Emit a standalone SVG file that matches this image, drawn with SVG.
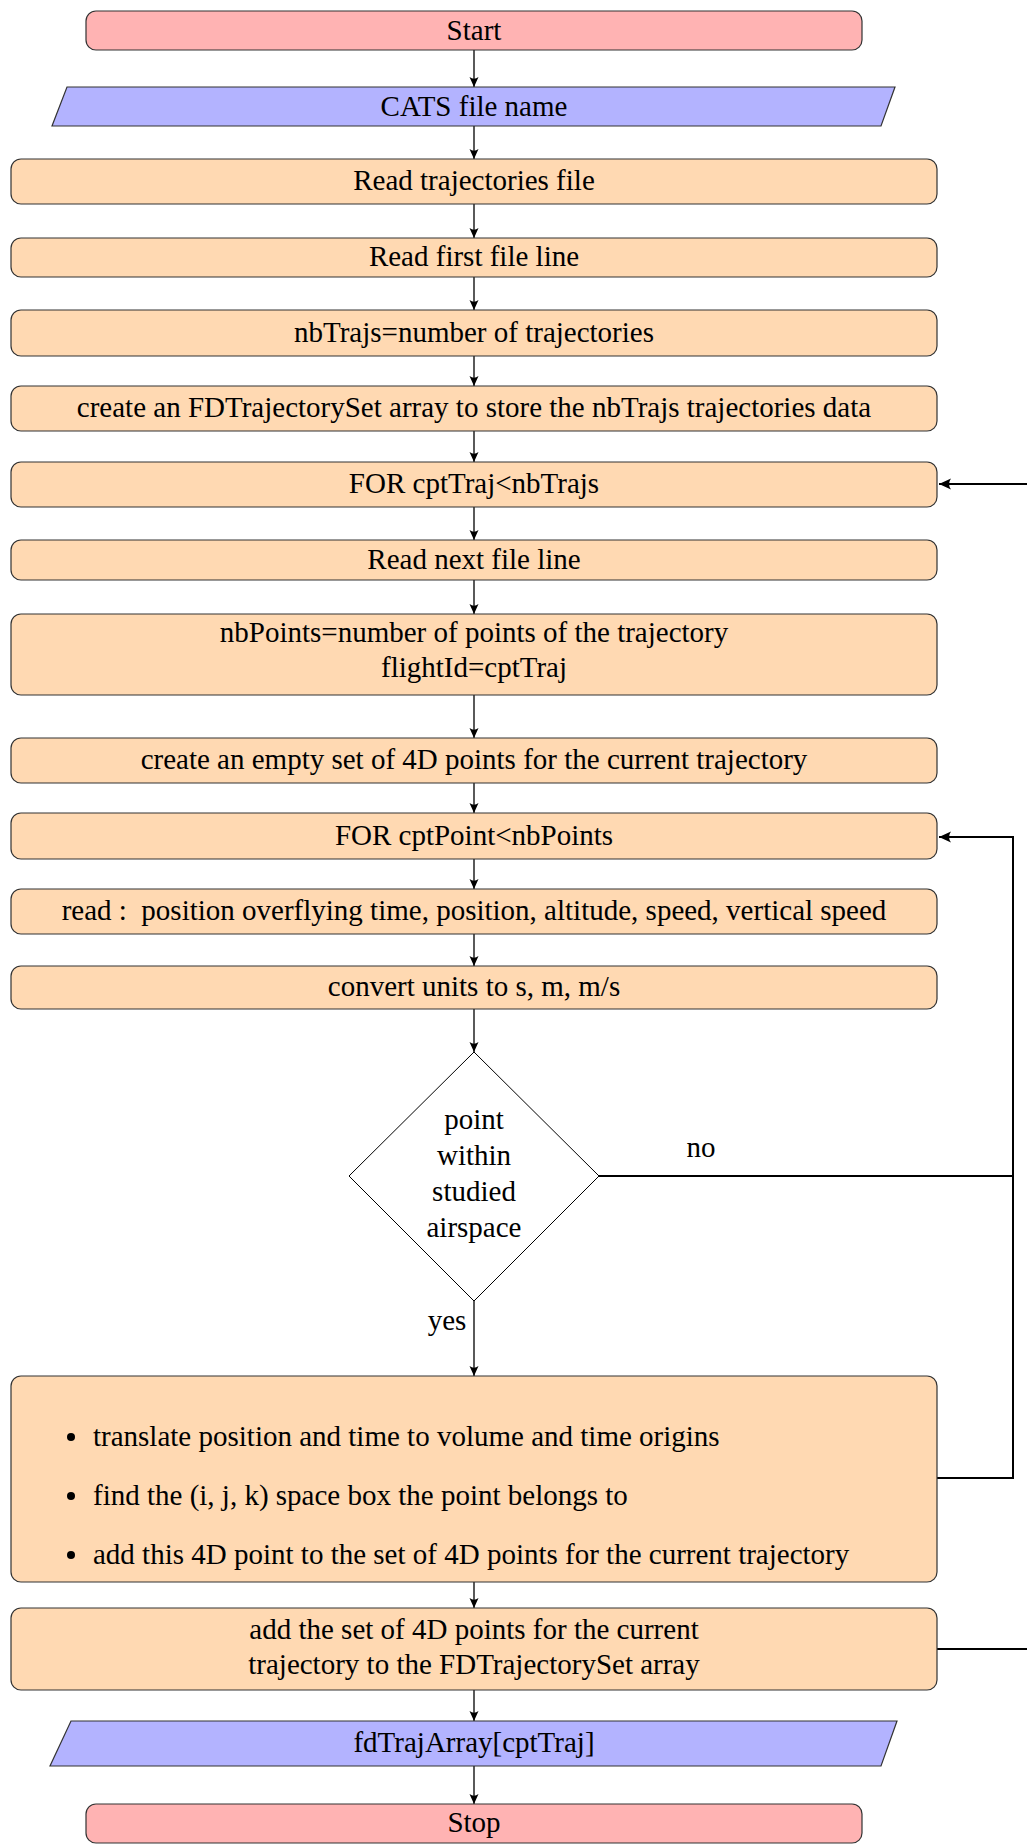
<svg xmlns="http://www.w3.org/2000/svg" width="1027" height="1845" viewBox="0 0 1027 1845">
<style>
text{font-size:29px;fill:#000;text-anchor:middle}
.proc{fill:#FFD9B2;stroke:#333;stroke-width:1.2}
.term{fill:#FFB3B3;stroke:#333;stroke-width:1.2}
.io{fill:#B3B3FF;stroke:#333;stroke-width:1.2}
.dec{fill:#fff;stroke:#000;stroke-width:1}
.arr{fill:none;stroke:#000;stroke-width:1.3;marker-end:url(#ah)}
.loop{fill:none;stroke:#000;stroke-width:2}
.lt{text-anchor:start}
</style>
<defs>
<marker id="ah" markerUnits="userSpaceOnUse" markerWidth="14" markerHeight="12" viewBox="-11 -6 12 12" refX="0" refY="0" orient="auto">
<path d="M0,0 L-10,-4.5 Q-6.5,0 -10,4.5 Z" fill="#000"/>
</marker>
<marker id="ah2" markerUnits="userSpaceOnUse" markerWidth="16" markerHeight="14" viewBox="-13 -7 14 14" refX="0" refY="0" orient="auto">
<path d="M0,0 L-12,-5.5 Q-8,0 -12,5.5 Z" fill="#000"/>
</marker>
</defs>
<g font-family="'Liberation Serif', 'Times New Roman', Times, 'DejaVu Serif', serif">
<g id="connectors">
<path class="arr" d="M474,50 V87"/>
<path class="arr" d="M474,126 V159"/>
<path class="arr" d="M474,204 V238"/>
<path class="arr" d="M474,277 V310"/>
<path class="arr" d="M474,356 V386"/>
<path class="arr" d="M474,431 V462"/>
<path class="arr" d="M474,507 V540"/>
<path class="arr" d="M474,580 V614"/>
<path class="arr" d="M474,695 V738"/>
<path class="arr" d="M474,783 V813"/>
<path class="arr" d="M474,859 V889"/>
<path class="arr" d="M474,934 V966"/>
<path class="arr" d="M474,1009 V1052"/>
<path class="arr" d="M474,1301 V1376"/>
<path class="arr" d="M474,1582 V1608"/>
<path class="arr" d="M474,1690 V1721"/>
<path class="arr" d="M474,1766 V1804"/>
<path class="loop" d="M599,1176 H1013 V837 H939" marker-end="url(#ah2)"/>
<path class="loop" d="M937,1478 H1013 V1176"/>
<path class="loop" d="M937,1649 H1040"/>
<path class="loop" d="M1040,484 H939" marker-end="url(#ah2)"/>
<text x="701" y="1157">no</text>
<text x="447" y="1330">yes</text>
</g>

<g id="start"><rect class="term" x="86" y="11" width="776" height="39" rx="10"/><text x="474" y="39.5">Start</text></g>
<g id="cats"><polygon class="io" points="67,87 895,87 881,126 52,126"/><text x="474" y="115.5">CATS file name</text></g>
<g id="readTraj"><rect class="proc" x="11" y="159" width="926" height="45" rx="10"/><text x="474" y="189.5">Read trajectories file</text></g>
<g id="readFirst"><rect class="proc" x="11" y="238" width="926" height="39" rx="10"/><text x="474" y="266">Read first file line</text></g>
<g id="nbTrajs"><rect class="proc" x="11" y="310" width="926" height="46" rx="10"/><text x="474" y="342">nbTrajs=number of trajectories</text></g>
<g id="createArray"><rect class="proc" x="11" y="386" width="926" height="45" rx="10"/><text x="474" y="417">create an FDTrajectorySet array to store the nbTrajs trajectories data</text></g>
<g id="forTraj"><rect class="proc" x="11" y="462" width="926" height="45" rx="10"/><text x="474" y="493">FOR cptTraj&lt;nbTrajs</text></g>
<g id="readNext"><rect class="proc" x="11" y="540" width="926" height="40" rx="10"/><text x="474" y="569">Read next file line</text></g>
<g id="nbPoints"><rect class="proc" x="11" y="614" width="926" height="81" rx="10"/><text x="474" y="642">nbPoints=number of points of the trajectory</text><text x="474" y="677">flightId=cptTraj</text></g>
<g id="createEmpty"><rect class="proc" x="11" y="738" width="926" height="45" rx="10"/><text x="474" y="769">create an empty set of 4D points for the current trajectory</text></g>
<g id="forPoint"><rect class="proc" x="11" y="813" width="926" height="46" rx="10"/><text x="474" y="845">FOR cptPoint&lt;nbPoints</text></g>
<g id="read"><rect class="proc" x="11" y="889" width="926" height="45" rx="10"/><text x="474" y="920" xml:space="preserve">read :  position overflying time, position, altitude, speed, vertical speed</text></g>
<g id="convert"><rect class="proc" x="11" y="966" width="926" height="43" rx="10"/><text x="474" y="996">convert units to s, m, m/s</text></g>
<g id="decision"><polygon class="dec" points="474,1052 599,1176 474,1301 349,1176"/><text x="474" y="1129">point</text><text x="474" y="1165">within</text><text x="474" y="1201">studied</text><text x="474" y="1237">airspace</text></g>
<g id="bullets"><rect class="proc" x="11" y="1376" width="926" height="206" rx="10"/>
<circle cx="71" cy="1437" r="4"/><text class="lt" x="93" y="1446">translate position and time to volume and time origins</text>
<circle cx="71" cy="1496" r="4"/><text class="lt" x="93" y="1505">find the (i, j, k) space box the point belongs to</text>
<circle cx="71" cy="1555" r="4"/><text class="lt" x="93" y="1564">add this 4D point to the set of 4D points for the current trajectory</text></g>
<g id="addSet"><rect class="proc" x="11" y="1608" width="926" height="82" rx="10"/><text x="474" y="1639">add the set of 4D points for the current</text><text x="474" y="1674">trajectory to the FDTrajectorySet array</text></g>
<g id="fdTraj"><polygon class="io" points="71,1721 897,1721 881,1766 50,1766"/><text x="474" y="1752">fdTrajArray[cptTraj]</text></g>
<g id="stop"><rect class="term" x="86" y="1804" width="776" height="39" rx="10"/><text x="474" y="1832">Stop</text></g>
</g>
</svg>
